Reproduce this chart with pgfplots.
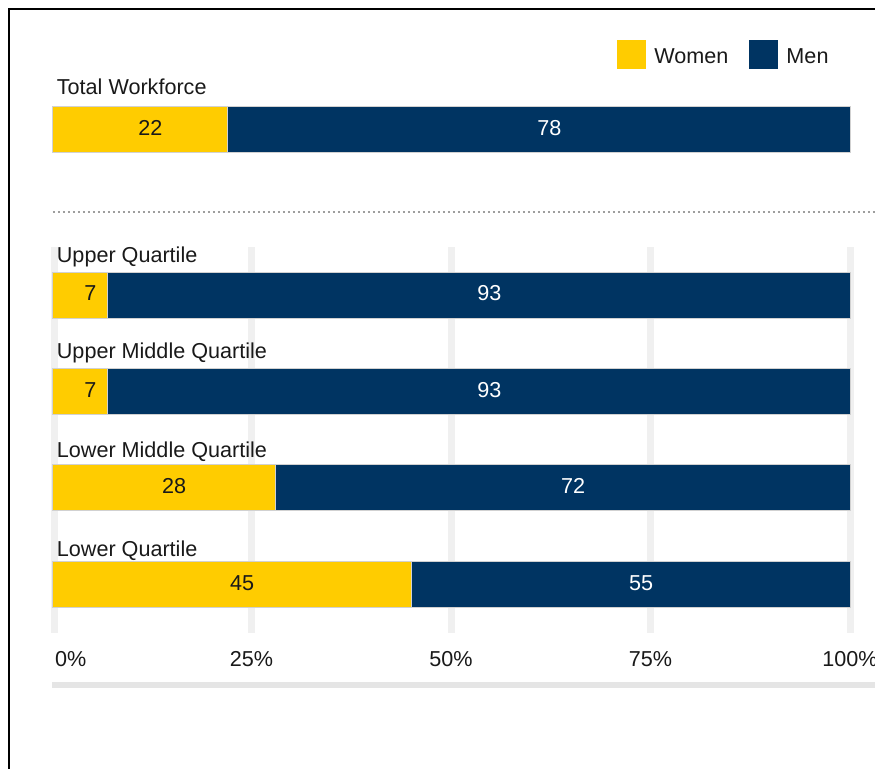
\documentclass[border=0pt]{standalone}
\usepackage{fontspec}
\setmainfont{Liberation Sans}
\usepackage{pgfplots}
\pgfplotsset{compat=1.18}
\definecolor{wom}{RGB}{255,204,0}
\definecolor{men}{RGB}{0,52,98}
\definecolor{gridc}{RGB}{240,240,240}
\definecolor{txt}{RGB}{25,25,25}
\newcommand\lfont{\fontsize{21.6bp}{25bp}\selectfont}
\pgfplotsset{
  base/.style={scale only axis, width=798bp, height=769bp,
    xmin=0, xmax=100, ymin=-769, ymax=0,
    at={(52bp,0bp)}, anchor=south west, clip=false},
  myleg/.style={legend image code/.code={\fill[##1,draw=none] (0bp,-12bp) rectangle (29bp,17bp);}},
}
\begin{document}
\begin{tikzpicture}
\useasboundingbox (0,0) rectangle (875bp,769bp);
\clip (0,0) rectangle (875bp,769bp);
% decorations and tick labels
\begin{axis}[base,
  axis line style={draw=none}, tick style={draw=none}, major tick length=0pt,
  ytick=\empty, xtick={0,25,50,75,100},
  xticklabels={\makebox[0pt][l]{\hspace{3bp}0\%},25\%,50\%,75\%,100\%},
  xticklabel style={anchor=base, yshift=102bp, font=\lfont, text=txt, inner sep=0pt}]
\draw[gridc, line width=7bp] (axis cs:0.33,-247) -- (axis cs:0.33,-633);
\draw[gridc, line width=7bp] (axis cs:25,-247) -- (axis cs:25,-633);
\draw[gridc, line width=7bp] (axis cs:50,-247) -- (axis cs:50,-633);
\draw[gridc, line width=7bp] (axis cs:75,-247) -- (axis cs:75,-633);
\draw[gridc, line width=7bp] (axis cs:100,-247) -- (axis cs:100,-633);
\draw[black!38, line width=2.5bp, dash pattern=on 2.5bp off 2.5bp] (axis cs:0.1,-212) -- (axis cs:104,-212);
\draw[black!10, line width=6bp] (axis cs:0,-685) -- (axis cs:104,-685);
\end{axis}
% bars
\begin{axis}[base, hide axis, xbar stacked, bar width=46,
  legend style={at={(axis cs:70.86,-54.5)}, anchor=west, draw=none, fill=none,
    inner sep=0pt, outer sep=0pt, font=\lfont, text=txt,
    legend columns=-1, legend cell align=left,
    nodes={inner sep=0pt, outer sep=0pt},
    /tikz/every odd column/.append style={column sep=8bp},
    /tikz/every even column/.append style={column sep=21bp}}]
\addplot[fill=wom, draw=black!18, line width=1bp, myleg] coordinates
  {(22,-130) (7,-295.5) (7,-392) (28,-488) (45,-585)};
\addplot[fill=men, draw=black!18, line width=1bp, myleg] coordinates
  {(78,-130) (93,-295.5) (93,-392) (72,-488) (55,-585)};
\legend{Women, Men}
\end{axis}
% value labels and category labels
\begin{axis}[base, hide axis]
\addplot[draw=none, mark=none, nodes near coords, point meta=explicit symbolic,
  every node near coord/.append style={anchor=center, font=\lfont, text=txt, xshift=10.5bp, yshift=2bp}]
  table[col sep=comma, meta=label] {
x,y,label
11,-130,22
3.5,-295.5,7
3.5,-392,7
14,-488,28
22.5,-585,45
};
\addplot[draw=none, mark=none, nodes near coords, point meta=explicit symbolic,
  every node near coord/.append style={anchor=center, font=\lfont, text=white, xshift=10.5bp, yshift=2bp}]
  table[col sep=comma, meta=label] {
x,y,label
61,-130,78
53.5,-295.5,93
53.5,-392,93
64,-488,72
72.5,-585,55
};
\addplot[draw=none, mark=none, nodes near coords, point meta=explicit symbolic,
  every node near coord/.append style={anchor=base west, inner sep=0pt, font=\lfont, text=txt, xshift=4.7bp}]
  table[col sep=comma, meta=label] {
x,y,label
0,-95,Total Workforce
0,-263,Upper Quartile
0,-359,Upper Middle Quartile
0,-458,Lower Middle Quartile
0,-556.5,Lower Quartile
};
\end{axis}
\draw[black, line width=2.2bp] (9bp,-10bp) -- (9bp,760bp) -- (885bp,760bp);
\end{tikzpicture}
\end{document}
